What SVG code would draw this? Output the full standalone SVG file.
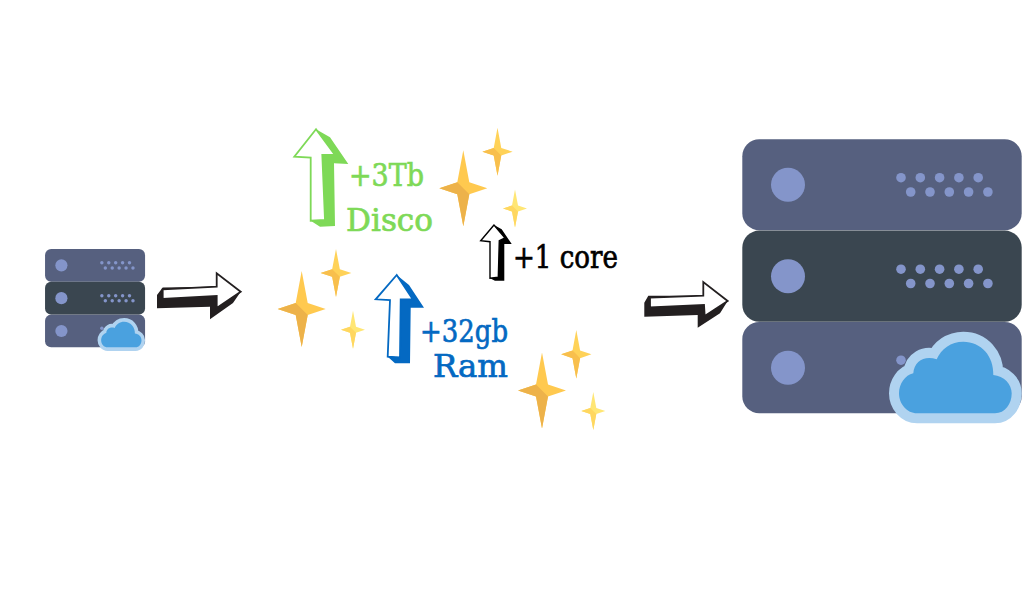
<svg xmlns="http://www.w3.org/2000/svg" width="1024" height="600" viewBox="0 0 1024 600">
<style>
.rack{fill:#56607f}.rack2{fill:#3a4650}.led{fill:#8495ca}
.lbl{font-family:"DejaVu Serif","Liberation Serif",serif;font-size:31px;stroke-width:.7px}
.g{fill:#7ed957;stroke:#7ed957}.b{fill:#0469c2;stroke:#0469c2}.k{fill:#000;stroke:#000}
.sh{stroke:none}
.ba{fill:#ffc94f}.bc{fill:#edb24a}
.ma{fill:#ffd258}.mc{fill:#f8bf4d}
.sa{fill:#ffe674}.sc{fill:#ffd760}
</style>
<defs>
<g id="dots">
<circle class="led" cx="901" cy="177.7" r="4.8"/><circle class="led" cx="920.3" cy="177.7" r="4.8"/><circle class="led" cx="939.6" cy="177.7" r="4.8"/><circle class="led" cx="958.9" cy="177.7" r="4.8"/><circle class="led" cx="978.2" cy="177.7" r="4.8"/>
<circle class="led" cx="910.7" cy="192" r="4.8"/><circle class="led" cx="930" cy="192" r="4.8"/><circle class="led" cx="949.3" cy="192" r="4.8"/><circle class="led" cx="968.6" cy="192" r="4.8"/><circle class="led" cx="987.9" cy="192" r="4.8"/>
<circle class="led" cx="788" cy="184.7" r="17"/>
</g>
<g id="server">
<rect class="rack" x="742.3" y="139.3" width="279.4" height="91" rx="17"/>
<rect class="rack" x="742.3" y="322" width="279.4" height="91.3" rx="17"/>
<rect class="rack2" x="742.3" y="230.6" width="279.4" height="91.2" rx="17"/>
<use href="#dots"/>
<use href="#dots" y="91.5"/>
<circle class="led" cx="901" cy="360.2" r="4.8"/>
<circle class="led" cx="788" cy="367.7" r="17"/>
<path d="M917 413.3H995C1005 413.3 1011.7 404 1011.7 393.3C1011.7 384 1004 376 993.3 375C994 356 981 341.7 963.3 341.7C951 341.7 941 349 936.7 359.3C925 355 914 361 913.3 373.3C905 375 899 384 899 393.3C899 404 907 413.3 917 413.3Z" fill="#4aa1df" stroke="#b0d3f0" stroke-width="20" stroke-linejoin="round" paint-order="stroke"/>
</g>
<path id="s1" d="M0-38L6-6L24 0L6 6L0 38L-6 6L-24 0L-6-6Z"/>
<path id="s2" d="M-24 0L-6 6L0 38L6 6L0 0L-6-6Z"/>
<g id="starB"><use class="ba" href="#s1"/><use class="bc" href="#s2"/></g>
<g id="starM"><use class="ma" href="#s1"/><use class="mc" href="#s2"/></g>
<g id="starS"><use class="sa" href="#s1"/><use class="sc" href="#s2"/></g>
</defs>
<rect width="1024" height="600" fill="#fff"/>
<g id="server-small"><use href="#server" transform="translate(-220.7 199.1) scale(.358 .3587)"/></g>
<g id="server-large"><use href="#server"/></g>
<g id="connectors">
<path fill="#231f20" d="M157 308.3V295L162.7 287.5L216.7 286.7L240.7 291.7L233 303L210 319.3V306.7Z"/>
<path fill="#fff" stroke="#231f20" stroke-width="1.8" d="M240.7 291.7L216.7 273.3V286.7L162.7 289.3V299L216.7 296V308Z"/>
<path fill="#231f20" d="M644.3 316.7V302.7L648.3 295.7L703.3 295.7L727.7 301L720 313.3L697.7 327.7V315Z"/>
<path fill="#fff" stroke="#231f20" stroke-width="1.8" d="M727.7 301L703.3 282V295.7L650 297.7V307.3L704 305L704.7 316Z"/>
</g>
<g id="up-disco">
<path class="g sh" d="M316 129.3L330 137.3L348.3 164L334 163.3L335 226L320 226.7L310.7 220.7V157.7Z"/>
<path fill="#fff" stroke="#7ed957" stroke-width="1.8" d="M316 129.3L294.3 156.7L310.7 157.7V220.7L325 220L322.3 155H335Z"/>
</g>
<g id="up-ram">
<path class="b sh" d="M396.7 275L409 285L424 307.7H410.7L410 363.3H395L387.7 356.7L390 300Z"/>
<path fill="#fff" stroke="#0469c2" stroke-width="1.8" d="M396.7 275L375.7 299.3L390 300L387.7 356.7L400 357.3L400.7 299.3H412.7Z"/>
</g>
<g id="up-core">
<path class="k sh" d="M494 225L501.7 229.3L511.7 244H504.3V280.7H495L490 278.3V241.7Z"/>
<path fill="#fff" stroke="#000" stroke-width="1.4" d="M494 225L480.7 240.7L490 241.7V278.3L498.3 277.3L499.3 240.7L505 238Z"/>
</g>
<g id="stars-a">
<use href="#starB" transform="translate(463.3 188.3)"/>
<use href="#starM" transform="translate(497.5 151.7) scale(.63 .63)"/>
<use href="#starS" transform="translate(515 208.5) scale(.5 .5)"/>
</g>
<g id="stars-b">
<use href="#starB" transform="translate(301.7 309)"/>
<use href="#starM" transform="translate(336 273) scale(.64 .63)"/>
<use href="#starS" transform="translate(353 329.8) scale(.5 .5)"/>
</g>
<g id="stars-c">
<use href="#starB" transform="translate(542 390.5)"/>
<use href="#starM" transform="translate(576.3 354.3) scale(.63 .64)"/>
<use href="#starS" transform="translate(593.3 411) scale(.5 .5)"/>
</g>
<g id="labels">
<text class="lbl g" x="349" y="186" textLength="75" lengthAdjust="spacingAndGlyphs">+3Tb</text>
<text class="lbl g" x="346" y="231" textLength="87" lengthAdjust="spacingAndGlyphs">Disco</text>
<text class="lbl k" x="513" y="268" textLength="105" lengthAdjust="spacingAndGlyphs">+1 core</text>
<text class="lbl b" x="420" y="342" textLength="88" lengthAdjust="spacingAndGlyphs">+32gb</text>
<text class="lbl b" x="433" y="377" textLength="75" lengthAdjust="spacingAndGlyphs">Ram</text>
</g>
</svg>
